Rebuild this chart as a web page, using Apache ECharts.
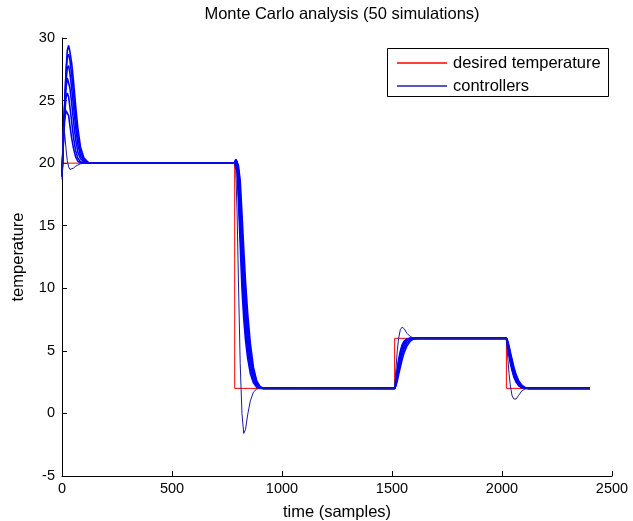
<!DOCTYPE html>
<html>
<head>
<meta charset="utf-8">
<script src="https://cdn.jsdelivr.net/npm/echarts@6/dist/echarts.min.js"></script>
<style>
  html, body { margin: 0; padding: 0; background: #fff; }
  #chart { width: 633px; height: 521px; }
</style>
</head>
<body>
<div id="chart"></div>
<script>
// Set-point schedule (samples, temperature)
const setpointTimes = [0, 785, 785, 1512, 1512, 2020, 2020, 2400];
const setpointValues = [20, 20, 2, 2, 6, 6, 2, 2];

// Sample grids around each transient
const tStart = [0, 6, 12, 18, 24, 30, 36, 44, 52, 62, 72, 84, 100, 120];
const tDrop = [785, 790, 796, 802, 810, 818, 826, 834, 844, 856, 870, 885, 900, 915];
const tRise = [1512, 1518, 1524, 1530, 1538, 1546, 1556, 1568, 1582, 1598, 1615];
const tFall = [2020, 2026, 2032, 2038, 2046, 2054, 2064, 2076, 2090, 2106, 2122];
const tEnd = 2400;

// Controller runs: start-up response (initial condition to 20)
const startRuns = [
  [19.0, 21.5, 24.5, 27.3, 29.0, 29.4, 28.9, 28.0, 26.6, 24.6, 22.8, 21.3, 20.4, 20.05],
  [19.2, 21.8, 24.7, 27.1, 28.5, 28.7, 28.2, 27.1, 25.6, 23.7, 22.1, 20.9, 20.25, 20.02],
  [18.9, 21.6, 24.3, 26.5, 27.6, 27.8, 27.2, 26.0, 24.6, 22.9, 21.5, 20.6, 20.15, 20],
  [19.3, 22.0, 24.4, 26.0, 26.8, 26.7, 26.0, 24.8, 23.4, 21.9, 20.9, 20.35, 20.08, 20],
  [19.0, 21.8, 23.9, 25.2, 25.6, 25.3, 24.5, 23.3, 22.1, 21.0, 20.4, 20.1, 20.02, 20],
  [19.1, 21.7, 23.4, 24.2, 24.3, 23.8, 23.0, 22.0, 21.2, 20.5, 20.15, 20.03, 20, 20],
  [18.7, 22.9, 22.4, 21.2, 20.2, 19.7, 19.5, 19.5, 19.6, 19.75, 19.85, 19.95, 20, 20]
];

// Set-point drop 20 -> 2
const dropRuns = [
  [20, 20.1, 19.3, 17.0, 13.5, 10.0, 7.6, 5.9, 4.4, 3.2, 2.45, 2.1, 2.0, 2],
  [20, 20.15, 19.6, 17.9, 14.7, 11.3, 8.7, 6.7, 5.0, 3.6, 2.7, 2.2, 2.03, 2],
  [20, 20.2, 19.8, 18.5, 15.7, 12.4, 9.7, 7.6, 5.7, 4.0, 2.95, 2.3, 2.05, 2],
  [20, 20.25, 20.0, 19.1, 16.7, 13.6, 10.8, 8.5, 6.4, 4.5, 3.2, 2.4, 2.08, 2],
  [20, 20.3, 20.1, 19.5, 17.7, 14.8, 12.0, 9.5, 7.2, 5.0, 3.4, 2.5, 2.1, 2],
  [20, 20.3, 20.2, 19.8, 18.6, 16.0, 13.2, 10.6, 8.0, 5.6, 3.7, 2.6, 2.15, 2.02],
  [20, 19.4, 16.0, 10.5, 4.0, 0.0, -1.6, -1.3, -0.1, 1.0, 1.7, 1.95, 2, 2]
];

// Set-point rise 2 -> 6
const riseRuns = [
  [2, 2.7, 3.6, 4.3, 5.0, 5.5, 5.8, 5.95, 6, 6, 6],
  [2, 2.55, 3.35, 4.05, 4.8, 5.35, 5.72, 5.92, 6, 6, 6],
  [2, 2.45, 3.15, 3.8, 4.55, 5.15, 5.6, 5.87, 5.98, 6, 6],
  [2, 2.35, 2.95, 3.55, 4.3, 4.95, 5.45, 5.8, 5.95, 6, 6],
  [2, 2.3, 2.8, 3.35, 4.0, 4.65, 5.2, 5.62, 5.88, 5.98, 6],
  [2, 2.2, 2.6, 3.1, 3.7, 4.3, 4.9, 5.4, 5.75, 5.95, 6],
  [2, 3.6, 5.0, 6.0, 6.7, 6.9, 6.75, 6.4, 6.15, 6.02, 6]
];

// Set-point fall 6 -> 2
const fallRuns = [
  [6, 5.3, 4.6, 4.0, 3.4, 2.9, 2.5, 2.2, 2.05, 2, 2],
  [6, 5.4, 4.75, 4.2, 3.6, 3.1, 2.65, 2.3, 2.08, 2.01, 2],
  [6, 5.5, 4.9, 4.4, 3.8, 3.25, 2.75, 2.38, 2.12, 2.02, 2],
  [6, 5.6, 5.1, 4.6, 4.0, 3.45, 2.9, 2.45, 2.16, 2.03, 2],
  [6, 5.7, 5.25, 4.75, 4.15, 3.6, 3.0, 2.52, 2.2, 2.04, 2],
  [6, 5.8, 5.4, 4.9, 4.3, 3.7, 3.1, 2.6, 2.25, 2.05, 2],
  [6, 4.5, 3.2, 2.2, 1.4, 1.15, 1.15, 1.45, 1.8, 1.97, 2]
];

// Legend entries: label and line colour
const legendLabels = ['desired temperature', 'controllers'];
const legendColors = ['#ff0000', '#2020b0'];

const xTicks = { min: 0, max: 2500, interval: 500 };
const yTicks = { min: -5, max: 30, interval: 5 };

const FONT = 'Liberation Sans, Arial, sans-serif';
const RED = '#ff0000';
const BLUE = '#0000ff';
const NAVY = '#1a1aa0';

function zip(ts, vs) { return ts.map((t, k) => [t, vs[k]]); }

const OUTLIER = startRuns.length - 1;
const runSeries = startRuns.map((_, i) => {
  const pts = []
    .concat(zip(tStart, startRuns[i]))
    .concat(zip(tDrop, dropRuns[i]))
    .concat(zip(tRise, riseRuns[i]))
    .concat(zip(tFall, fallRuns[i]))
    .concat([[tEnd, 2]]);
  const outlier = i === OUTLIER;
  return {
    name: legendLabels[1],
    type: 'line',
    data: pts,
    symbol: 'none',
    itemStyle: { color: BLUE },
    lineStyle: { color: outlier ? NAVY : BLUE, width: outlier ? 1 : 1.6 },
    z: 3
  };
});

// Boxed legend in the upper-right corner of the plot
const LEG = { x: 387, y: 48, w: 221, h: 48, row0: 63, rowStep: 23, lineX: 397, lineLen: 50, textX: 453 };
const legendGraphics = [{
  type: 'rect', z: 100,
  shape: { x: LEG.x + 0.5, y: LEG.y + 0.5, width: LEG.w, height: LEG.h },
  style: { fill: '#fff', stroke: '#000', lineWidth: 1 }
}];
legendLabels.forEach((label, k) => {
  const y = LEG.row0 + k * LEG.rowStep;
  legendGraphics.push({
    type: 'line', z: 101,
    shape: { x1: LEG.lineX, y1: y, x2: LEG.lineX + LEG.lineLen, y2: y },
    style: { stroke: legendColors[k], lineWidth: 1.5 }
  });
  legendGraphics.push({
    type: 'text', z: 101, x: LEG.textX, y: y,
    style: { text: label, fill: '#000', font: '16.5px ' + FONT, verticalAlign: 'middle' }
  });
});

const chart = echarts.init(document.getElementById('chart'), null, { renderer: 'canvas' });
chart.setOption({
  animation: false,
  backgroundColor: '#ffffff',
  title: {
    text: 'Monte Carlo analysis (50 simulations)',
    left: 337, top: 1, textAlign: 'center',
    textStyle: { fontFamily: FONT, fontSize: 16.5, fontWeight: 'normal', color: '#000' }
  },
  graphic: legendGraphics,
  grid: { left: 62, right: 21, top: 38, bottom: 45, outerBoundsMode: 'none', containLabel: false },
  xAxis: {
    type: 'value', min: xTicks.min, max: xTicks.max, interval: xTicks.interval,
    name: 'time (samples)', nameLocation: 'middle', nameGap: 28,
    nameTextStyle: { fontFamily: FONT, fontSize: 16.5, color: '#000' },
    axisLine: { onZero: false, lineStyle: { color: '#000', width: 1 } },
    axisTick: { inside: true, length: 5, lineStyle: { color: '#000' } },
    axisLabel: { fontFamily: FONT, fontSize: 14.5, color: '#000', margin: 5,
                 formatter: v => String(v) },
    splitLine: { show: false }
  },
  yAxis: {
    type: 'value', min: yTicks.min, max: yTicks.max, interval: yTicks.interval,
    name: 'temperature', nameLocation: 'middle', nameGap: 35,
    nameTextStyle: { fontFamily: FONT, fontSize: 16.5, color: '#000' },
    axisLine: { show: true, onZero: false, lineStyle: { color: '#000', width: 1 } },
    axisTick: { show: true, inside: true, length: 5, lineStyle: { color: '#000' } },
    axisLabel: { fontFamily: FONT, fontSize: 14.5, color: '#000', margin: 7,
                 formatter: v => String(v) },
    splitLine: { show: false }
  },
  series: [{
    name: legendLabels[0],
    type: 'line',
    data: zip(setpointTimes, setpointValues),
    symbol: 'none',
    itemStyle: { color: RED },
    lineStyle: { color: RED, width: 1 },
    z: 2
  }].concat(runSeries)
});
</script>
</body>
</html>
